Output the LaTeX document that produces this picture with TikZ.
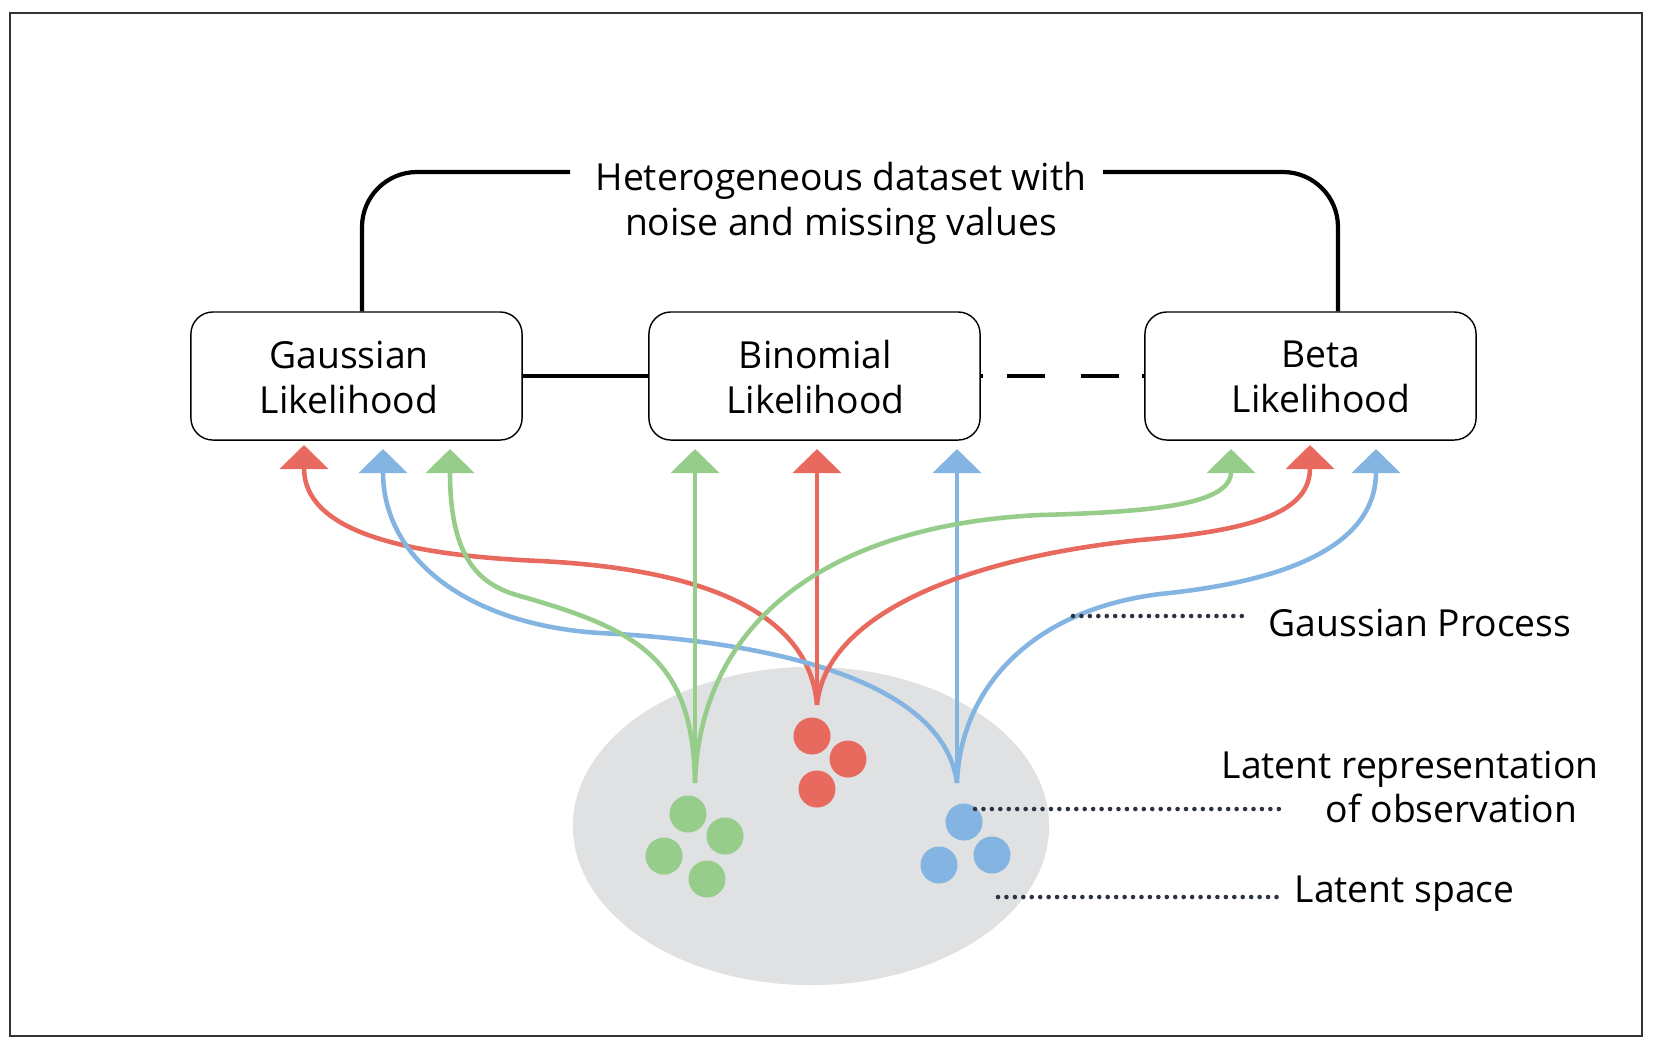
\documentclass[tikz,border=0pt]{standalone}
\usepackage{fontspec}
\setmainfont{Open Sans}
\usetikzlibrary{arrows.meta}
\definecolor{cR}{HTML}{E8695D}
\definecolor{cG}{HTML}{97CD8B}
\definecolor{cB}{HTML}{84B5E2}
\definecolor{cE}{HTML}{E0E1E3}
\definecolor{cD}{HTML}{2B3340}
\begin{document}
\begin{tikzpicture}[x=0.01cm,y=-0.01cm,
  lik/.style={draw=black,line width=0.4pt,rounded corners=0.22cm,minimum width=3.31cm,minimum height=1.28cm,inner sep=0pt},
  liktext/.style={align=center,inner sep=0pt,font=\fontsize{10.6pt}{12.8pt}\selectfont},
  lbl/.style={inner sep=0pt,font=\fontsize{10.6pt}{12.6pt}\selectfont},
  ttl/.style={inner sep=0pt,align=center,font=\fontsize{10.6pt}{12.9pt}\selectfont},
  gpline/.style={line width=1.3pt,-{Triangle[length=0.24cm,width=0.48cm]}},
  leader/.style={draw=cD,line width=1.3pt,line cap=round,dash pattern=on 0pt off 2.4pt},
  bracket/.style={line width=1.2pt,rounded corners=0.55cm},
  link/.style={line width=1.25pt},
  ]
\useasboundingbox (0,0) rectangle (1665,1056);
% frame
\draw[line width=0.5pt,draw=black!80] (10,13) rectangle (1642,1036);

% latent space
\fill[cE] (811,826) ellipse [x radius=2.38cm, y radius=1.59cm];
% latent points
\fill[cR] (812,736) circle[radius=0.185cm];
\fill[cR] (848,759) circle[radius=0.185cm];
\fill[cR] (817,789) circle[radius=0.185cm];
\fill[cG] (688,814) circle[radius=0.185cm];
\fill[cG] (725,836) circle[radius=0.185cm];
\fill[cG] (664,856) circle[radius=0.185cm];
\fill[cG] (707,879) circle[radius=0.185cm];
\fill[cB] (964,822) circle[radius=0.185cm];
\fill[cB] (992,855) circle[radius=0.185cm];
\fill[cB] (939,865) circle[radius=0.185cm];

% likelihood boxes
\node[lik] (G) at (356.5,376) {};
\node[lik] (B) at (814.5,376) {};
\node[lik] (Be) at (1310.5,376) {};
\node[liktext] (Gt) at ([xshift=-0.075cm,yshift=-0.01cm]G.center) {Gaussian\\Likelihood};
\node[liktext] (Bt) at ([xshift=0.01cm,yshift=-0.01cm]B.center) {Binomial\\Likelihood};
\node[liktext] (Bet) at ([xshift=0.105cm,yshift=-0.01cm]Be.center) {Beta\\Likelihood};
\draw[link] (G.east) -- (B.west);
\draw[link,dash pattern=on 0.02cm off 0.24cm on 0.38cm off 0.36cm on 0.38cm off 0.23cm on 0.04cm] (B.east) -- (Be.west);

% title and bracket
\node[ttl] (title) at (841,203) {Heterogeneous dataset with\\noise and missing values};
\coordinate (brL) at (362,172);
\coordinate (brLe) at (570,172);
\coordinate (brR) at (1338,172);
\coordinate (brRe) at (1103,172);
\draw[bracket] (G.north -| brL) |- (brLe);
\draw[bracket] (Be.north -| brR) |- (brRe);

% sources and tips
\coordinate (gS) at (695,783);
\coordinate (rS) at (817,705);
\coordinate (bS) at (957,783);
\coordinate (tRG) at (304,445);
\coordinate (tBG) at (383,449);
\coordinate (tGG) at (450,449);
\coordinate (tGB) at (695,449);
\coordinate (tRB) at (817,449);
\coordinate (tBB) at (957,449);
\coordinate (tGBe) at (1231,449);
\coordinate (tRBe) at (1310,445);
\coordinate (tBBe) at (1376,449);

% Gaussian process connections
\draw[gpline,cR] (rS) .. controls (810,620) and (720,570) .. (540,561)
                      .. controls (400,555) and (304,530) .. (tRG);
\draw[gpline,cB] (bS) .. controls (945,690) and (800,643) .. (600,633)
                      .. controls (470,625) and (383,560) .. (tBG);
\draw[gpline,cG] (gS) .. controls (693,660) and (640,630) .. (520,596)
                      .. controls (480,585) and (450,560) .. (tGG);
\draw[gpline,cG] (gS) -- (tGB);
\draw[gpline,cR] (rS) -- (tRB);
\draw[gpline,cB] (bS) -- (tBB);
\draw[gpline,cG] (gS) .. controls (700,620) and (830,525) .. (1040,515)
                      .. controls (1150,512) and (1231,505) .. (tGBe);
\draw[gpline,cR] (rS) .. controls (825,620) and (950,560) .. (1140,540)
                      .. controls (1260,530) and (1310,510) .. (tRBe);
\draw[gpline,cB] (bS) .. controls (960,690) and (1030,610) .. (1160,594)
                      .. controls (1300,580) and (1376,540) .. (tBBe);

% labels with leaders
\node[lbl,anchor=base west] (gpt) at (1268,636) {Gaussian Process};
\node[lbl,anchor=west,align=left] (lrt) at (1221,787) {Latent representation\\\hspace*{1.04cm}of observation};
\node[lbl,anchor=base west] (lst) at (1294,902) {Latent space};
\coordinate (gpA) at (1073,616);
\coordinate (gpB) at (1242,616);
\coordinate (lrA) at (975,809);
\coordinate (lrB) at (1283,809);
\coordinate (lsA) at (998,897);
\coordinate (lsB) at (1283,897);
\draw[leader] (gpA) -- (gpB);
\draw[leader] (lrA) -- (lrB);
\draw[leader] (lsA) -- (lsB);
\end{tikzpicture}
\end{document}
